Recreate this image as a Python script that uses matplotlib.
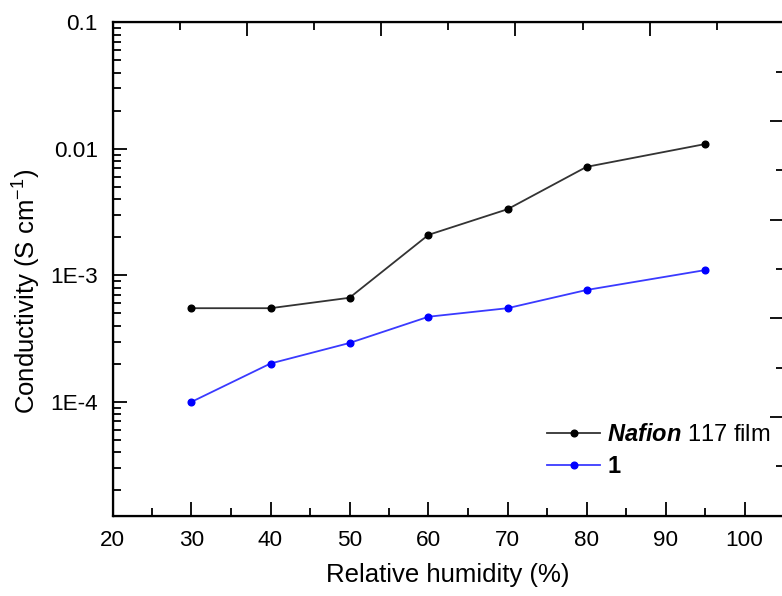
import matplotlib
matplotlib.use("Agg")
import matplotlib.pyplot as plt
from matplotlib.ticker import LogLocator, NullFormatter, MultipleLocator

plt.rcParams["font.family"] = ["Liberation Sans", "DejaVu Sans"]
plt.rcParams["mathtext.fontset"] = "custom"
plt.rcParams["mathtext.rm"] = "Liberation Sans"
plt.rcParams["mathtext.it"] = "Liberation Sans:italic"
plt.rcParams["mathtext.bf"] = "Liberation Sans:bold"
plt.rcParams["mathtext.bfit"] = "Liberation Sans:bold:italic"

# relative humidity (%) and proton conductivity (S/cm)
rh = [30, 40, 50, 60, 70, 80, 95]
nafion = [5.5e-4, 5.5e-4, 6.65e-4, 2.09e-3, 3.33e-3, 7.2e-3, 1.09e-2]
cmpd1 = [1.0e-4, 2.01e-4, 2.92e-4, 4.71e-4, 5.5e-4, 7.66e-4, 1.1e-3]

yticks = [1e-4, 1e-3, 1e-2, 1e-1]
ytick_labels = ["1E-4", "1E-3", "0.01", "0.1"]
xticks = [20, 30, 40, 50, 60, 70, 80, 90, 100]

fig = plt.figure(figsize=(7.82, 5.96), dpi=100)
W, H = 782, 596
x0, x1, y0, y1 = 112.5, 784, 515.7, 22.3
ax = fig.add_axes([x0 / W, 1 - y0 / H, (x1 - x0) / W, (y0 - y1) / H])

ax.plot(rh, nafion, color="#333333", lw=1.3, marker="o", ms=4.8,
        mfc="black", mec="black", label=r"$\mathbfit{Nafion}$ 117 film")
ax.plot(rh, cmpd1, color="#3a3aff", lw=1.3, marker="o", ms=4.8,
        mfc="#0000ff", mec="#0000ff", label="1")

ax.set_yscale("log")
ax.set_xlim(20, 105)
ax.set_ylim(1.26e-5, 0.1)
ax.set_xticks(xticks)
ax.xaxis.set_minor_locator(MultipleLocator(5))
ax.set_yticks(yticks)
ax.set_yticklabels(ytick_labels)
ax.yaxis.set_minor_locator(LogLocator(base=10, subs=range(2, 10)))
ax.yaxis.set_minor_formatter(NullFormatter())

ax.tick_params(which="both", direction="in", labelsize=16.2, width=1.3,
               colors="black")
ax.tick_params(which="major", length=10)
ax.tick_params(axis="x", which="major", pad=10)
ax.tick_params(axis="y", which="major", pad=10.5)
ax.tick_params(which="minor", length=5.5)
for s in ax.spines.values():
    s.set_linewidth(1.6)

# unlabelled frame ticks on top and right
top = ax.twiny()
top.set_xlim(0, 5)
top.xaxis.set_major_locator(MultipleLocator(1))
top.xaxis.set_minor_locator(MultipleLocator(0.5))
top.tick_params(which="both", direction="in", labeltop=False, width=1.3)
top.tick_params(which="major", length=10)
top.tick_params(which="minor", length=5.5)
right = ax.twinx()
right.set_ylim(0, 5)
right.yaxis.set_major_locator(MultipleLocator(1))
right.yaxis.set_minor_locator(MultipleLocator(0.5))
right.tick_params(which="both", direction="in", labelright=False, width=1.3)
right.tick_params(which="major", length=10)
right.tick_params(which="minor", length=5.5)

ax.set_xlabel("Relative humidity (%)", fontsize=18.5)
ax.set_ylabel(r"Conductivity (S cm$^{-1}$)", fontsize=18.5)
ax.xaxis.set_label_coords(0.5, -0.095)
ax.yaxis.set_label_coords(-0.104, 0.455)

leg = ax.legend(loc="upper left", bbox_to_anchor=(0.633, 0.205), frameon=False,
                fontsize=17, handlelength=2.25, handletextpad=0.3,
                labelspacing=0.4, borderaxespad=0)
leg.get_texts()[1].set_fontweight("bold")

fig.savefig("out.png", dpi=100)
